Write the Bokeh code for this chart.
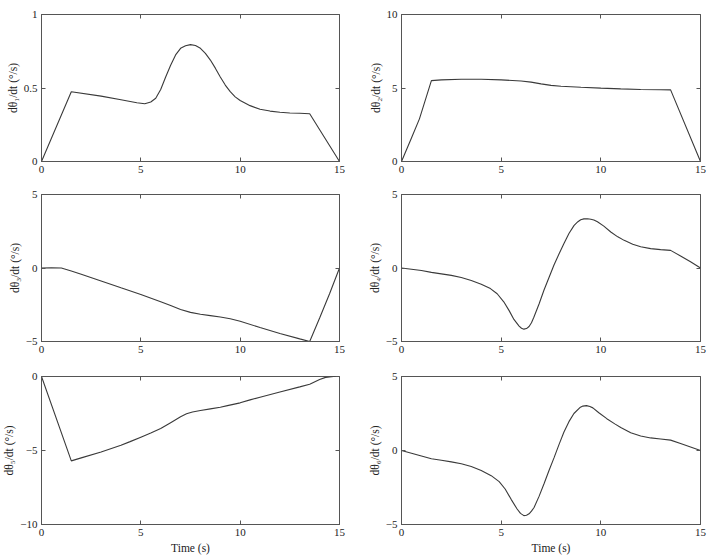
from bokeh.plotting import figure
from bokeh.models import Range1d, FixedTicker, LinearAxis
from bokeh.layouts import gridplot
from bokeh.embed import file_html
from bokeh.resources import INLINE

# ---------------- data ----------------
X_TICKS = [0, 5, 10, 15]
X_TICK_LABELS = ["0", "5", "10", "15"]

t1 = [0, 1.5, 3.0, 4.0, 4.8, 5.2, 5.5, 5.75, 6.0, 6.25, 6.5, 6.75, 7.0, 7.25, 7.5, 7.75, 8.0, 8.25,
      8.5, 8.75, 9.0, 9.25, 9.5, 9.75, 10.0, 10.5, 11.0, 11.5, 12.0, 12.5, 13.0, 13.5, 15]
y1 = [0, 0.475, 0.445, 0.42, 0.40, 0.393, 0.405, 0.43, 0.49, 0.575, 0.655, 0.725, 0.77, 0.788,
      0.795, 0.789, 0.77, 0.735, 0.69, 0.635, 0.575, 0.52, 0.475, 0.44, 0.415, 0.38, 0.355, 0.343,
      0.335, 0.33, 0.328, 0.325, 0]

t2 = [0, 0.5, 0.9, 1.5, 2.0, 3.0, 4.0, 5.0, 6.0, 6.5, 7.0, 7.5, 8.0, 9.0, 10.0, 11.0, 12.0, 13.0, 13.5, 15]
y2 = [0, 1.6, 2.9, 5.5, 5.55, 5.6, 5.6, 5.55, 5.48, 5.4, 5.28, 5.18, 5.12, 5.05, 4.99, 4.94, 4.9,
      4.88, 4.87, 0]

t3 = [0, 0.5, 1.0, 1.5, 2.0, 3.0, 4.0, 5.0, 6.0, 6.5, 7.0, 7.5, 8.0, 8.5, 9.0, 9.5, 10.0, 11.0,
      12.0, 13.0, 13.5, 14.0, 14.5, 15]
y3 = [0, 0.02, 0.0, -0.2, -0.42, -0.88, -1.35, -1.8, -2.3, -2.55, -2.82, -3.02, -3.15, -3.24,
      -3.33, -3.45, -3.62, -4.05, -4.45, -4.82, -5.0, -3.4, -1.75, 0]

t4 = [0, 0.5, 1.0, 1.5, 2.0, 2.5, 3.0, 3.5, 4.0, 4.46, 4.8, 5.13, 5.4, 5.64, 5.9, 6.02, 6.14, 6.27,
      6.4, 6.52, 6.64, 6.9, 7.15, 7.4, 7.65, 7.9, 8.15, 8.4, 8.66, 8.85, 8.99, 9.15, 9.33, 9.5,
      9.65, 9.83, 10.15, 10.5, 10.85, 11.17, 11.6, 12.0, 12.5, 13.0, 13.5, 14.0, 14.5, 15]
y4 = [0, -0.08, -0.17, -0.3, -0.4, -0.5, -0.65, -0.85, -1.1, -1.4, -1.75, -2.3, -2.9, -3.5, -3.95,
      -4.1, -4.16, -4.12, -3.98, -3.72, -3.35, -2.45, -1.5, -0.65, 0.2, 0.95, 1.66, 2.35, 2.9,
      3.15, 3.28, 3.34, 3.35, 3.32, 3.27, 3.15, 2.85, 2.45, 2.12, 1.88, 1.62, 1.45, 1.32, 1.25,
      1.2, 0.82, 0.42, 0.0]

t5 = [0, 1.5, 2.0, 3.0, 4.0, 4.46, 5.0, 5.5, 6.0, 6.5, 7.0, 7.3, 7.6, 8.0, 8.5, 9.0, 9.36, 10.0,
      10.5, 11.0, 12.0, 13.0, 13.5, 14.0, 14.3, 14.7, 15]
y5 = [0, -5.7, -5.5, -5.1, -4.65, -4.4, -4.1, -3.82, -3.52, -3.12, -2.72, -2.52, -2.4, -2.3, -2.19,
      -2.08, -1.97, -1.78, -1.58, -1.4, -1.05, -0.7, -0.52, -0.2, -0.06, 0.0, 0.0]

t6 = [0, 0.5, 1.0, 1.5, 2.0, 2.5, 3.0, 3.5, 4.0, 4.5, 4.9, 5.2, 5.5, 5.8, 5.97, 6.14, 6.27, 6.4,
      6.52, 6.65, 6.9, 7.15, 7.4, 7.65, 7.9, 8.15, 8.4, 8.65, 8.95, 9.1, 9.28, 9.45, 9.6, 9.9,
      10.3, 10.7, 11.0, 11.5, 12.0, 12.5, 13.0, 13.5, 14.0, 14.5, 15]
y6 = [0, -0.18, -0.37, -0.56, -0.66, -0.77, -0.9, -1.08, -1.35, -1.7, -2.1, -2.6, -3.3, -3.95,
      -4.25, -4.4, -4.38, -4.28, -4.1, -3.85, -3.1, -2.25, -1.35, -0.5, 0.4, 1.25, 1.95, 2.5,
      2.9, 3.0, 3.03, 2.97, 2.88, 2.55, 2.15, 1.8, 1.55, 1.2, 0.98, 0.85, 0.78, 0.7, 0.47, 0.24, 0]

Y_RANGES = [(0, 1), (0, 10), (-5, 5), (-5, 5), (-10, 0), (-5, 5)]
Y_TICKS = [[0, 0.5, 1], [0, 5, 10], [-5, 0, 5], [-5, 0, 5], [-10, -5, 0], [-5, 0, 5]]
Y_TICK_LABELS = [["0", "0.5", "1"], ["0", "5", "10"], ["\u22125", "0", "5"], ["\u22125", "0", "5"],
                 ["\u221210", "\u22125", "0"], ["\u22125", "0", "5"]]
Y_LABELS = ["d\u03b8\u2081/dt (\u00b0/s)", "d\u03b8\u2082/dt (\u00b0/s)", "d\u03b8\u2083/dt (\u00b0/s)",
            "d\u03b8\u2084/dt (\u00b0/s)", "d\u03b8\u2085/dt (\u00b0/s)", "d\u03b8\u2086/dt (\u00b0/s)"]
X_LABEL = "Time (s)"

FONT = "Liberation Serif"
FRAME = "#555555"


def panel(t, y, idx, col, rowi):
    width = 355
    if col == 0:
        bl, br = 41, 16
    else:
        bl, br = 46, 10
    if rowi < 2:
        height, bt, bb = 180, 14, 19
    else:
        height, bt, bb = 197, 16, 33
    p = figure(width=width, height=height, output_backend="svg", toolbar_location=None,
               x_range=Range1d(0, 15), y_range=Range1d(*Y_RANGES[idx]),
               min_border_left=bl, min_border_right=br, min_border_top=bt, min_border_bottom=bb)
    p.xgrid.visible = False
    p.ygrid.visible = False
    p.outline_line_color = FRAME
    p.outline_line_width = 1
    p.background_fill_color = "white"
    p.border_fill_color = "white"
    p.line(t, y, line_color="#3a3a3a", line_width=1.1)

    xa = p.xaxis[0]
    xa.ticker = FixedTicker(ticks=X_TICKS)
    xa.major_label_overrides = {k: v for k, v in zip(X_TICKS, X_TICK_LABELS)}
    ya = p.yaxis[0]
    ya.ticker = FixedTicker(ticks=Y_TICKS[idx])
    ya.major_label_overrides = {k: v for k, v in zip(Y_TICKS[idx], Y_TICK_LABELS[idx])}
    ya.axis_label = Y_LABELS[idx]
    if rowi == 2:
        xa.axis_label = X_LABEL
        xa.axis_label_standoff = 3
    for ax in (xa, ya):
        ax.axis_line_color = FRAME
        ax.major_tick_line_color = FRAME
        ax.major_tick_in = 4
        ax.major_tick_out = 0
        ax.minor_tick_line_color = None
        ax.major_label_text_font = FONT
        ax.major_label_text_font_size = "11px"
        ax.major_label_text_color = "#222222"
        ax.axis_label_text_font = FONT
        ax.axis_label_text_font_size = "11.5px"
        ax.axis_label_text_font_style = "normal"
        ax.axis_label_text_color = "#222222"
    xa.major_label_standoff = 4
    ya.major_label_standoff = 4
    ya.axis_label_standoff = 2

    # box ticks on top and right
    top = LinearAxis(ticker=FixedTicker(ticks=X_TICKS), axis_line_color=None,
                     major_tick_line_color=FRAME, major_tick_in=4, major_tick_out=0,
                     minor_tick_line_color=None, major_label_text_font_size="0px",
                     major_label_text_alpha=0, major_label_standoff=0)
    right = LinearAxis(ticker=FixedTicker(ticks=Y_TICKS[idx]), axis_line_color=None,
                       major_tick_line_color=FRAME, major_tick_in=4, major_tick_out=0,
                       minor_tick_line_color=None, major_label_text_font_size="0px",
                       major_label_text_alpha=0, major_label_standoff=0)
    p.add_layout(top, "above")
    p.add_layout(right, "right")
    return p


series = [(t1, y1), (t2, y2), (t3, y3), (t4, y4), (t5, y5), (t6, y6)]
figs = []
for i, (t, y) in enumerate(series):
    figs.append(panel(t, y, i, i % 2, i // 2))

grid = gridplot([[figs[0], figs[1]], [figs[2], figs[3]], [figs[4], figs[5]]],
                toolbar_location=None)

open("out.html", "w").write(file_html(grid, INLINE))
